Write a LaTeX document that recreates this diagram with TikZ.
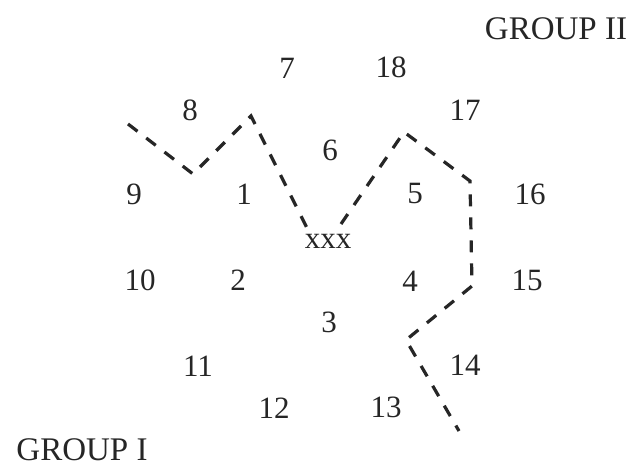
\documentclass[tikz,border=0pt]{standalone}
\usepackage{fontspec}
\setmainfont{Liberation Serif}
\begin{document}
\begin{tikzpicture}[x=1pt,y=-1pt,
  lab/.style={inner sep=0pt,font=\fontsize{31}{36}\selectfont,text=black!85},
  grp/.style={lab,font=\fontsize{33}{38}\selectfont},
  bound/.style={line width=3.2pt,dash pattern=on 12pt off 11pt,black!85}]
\useasboundingbox[fill=white] (0,0) rectangle (634,473);
% labels
\node[grp] (g2) at (556,29) {GROUP II};
\node[grp] (g1) at (82,450) {GROUP I};
\node[lab] (n7) at (287,68) {7};
\node[lab] (n18) at (391,67) {18};
\node[lab] (n17) at (465,110) {17};
\node[lab] (n8) at (190,110) {8};
\node[lab] (n6) at (330,150) {6};
\node[lab] (n9) at (134,194) {9};
\node[lab] (n1) at (244,194) {1};
\node[lab] (n5) at (415,194) {5};
\node[lab] (n16) at (530,194) {16};
\node[lab,anchor=base] (xxx) at (328,248) {xxx};
\node[lab] (n10) at (140,280) {10};
\node[lab] (n2) at (238,280) {2};
\node[lab] (n4) at (410,281) {4};
\node[lab] (n15) at (527,280) {15};
\node[lab] (n3) at (329,322) {3};
\node[lab] (n14) at (465,365) {14};
\node[lab] (n11) at (198,366) {11};
\node[lab] (n12) at (274,408) {12};
\node[lab] (n13) at (386,407) {13};
% boundary line
\coordinate (a) at (128,124);
\coordinate (b) at (193,174);
\coordinate (c) at (251,116);
\coordinate (d) at (307,228);
\coordinate (e) at (341,224);
\coordinate (f) at (404,132);
\coordinate (g) at (470,181);
\coordinate (h) at (472,286);
\coordinate (i) at (406,340);
\coordinate (j) at (459,431);
\draw[bound] (a) -- (b) -- (c) -- (d);
\draw[bound] (e) -- (f) -- (g) -- (h) -- (i) -- (j);
\end{tikzpicture}
\end{document}
